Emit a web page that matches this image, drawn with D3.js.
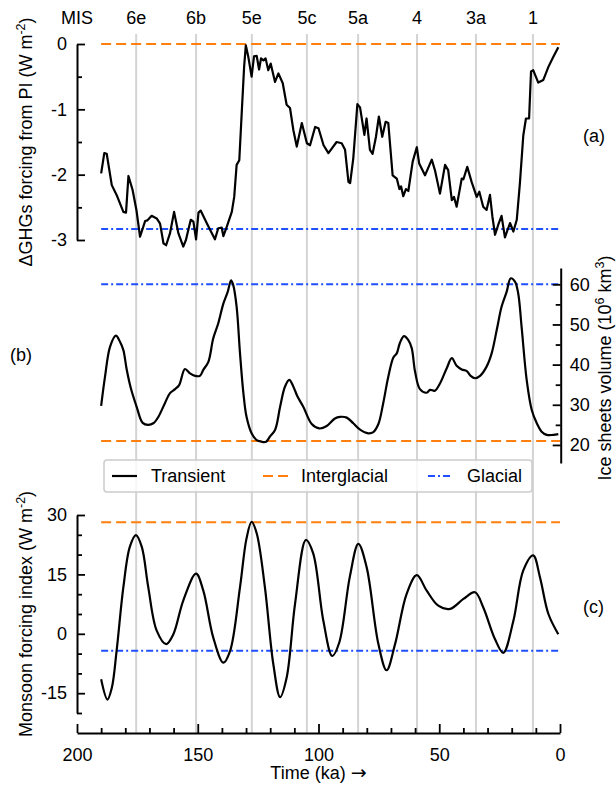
<!DOCTYPE html>
<html>
<head>
<meta charset="utf-8">
<script src="https://cdn.jsdelivr.net/npm/d3@7"></script>
<style>
html,body{margin:0;padding:0;background:#fff;}
svg{display:block;font-family:"Liberation Sans",Arial,Helvetica,sans-serif;}
</style>
</head>
<body>
<svg id="chart" width="616" height="787"></svg>
<script>
// ---------- DATA ----------
const misLabels = ["6e","6b","5e","5c","5a","4","3a","1"];
const misKa = [175.5, 150.7, 127.6, 104.8, 83.6, 59.2, 34.8, 11.2];

const ghgKa = [190,188.7,187.7,185.6,183.6,180.8,179.7,178.7,177,175.4,173.9,171.8,170.9,169.1,167,165.6,164.2,163.1,161.5,159.8,158,156,154.9,152.9,151.8,150.7,149.7,148.8,146.3,142.9,141.5,140.1,139.4,138,135.9,134.9,133.9,132.8,131.8,130.8,130.1,129.1,127.7,126.7,125.6,124.6,123.8,122.8,121.9,120.8,119.8,118,116.6,114.8,113.2,111.8,110.4,109,106.9,104.8,103.5,101.4,100,97.9,95.9,92.5,90.4,89,87.6,86.9,85.6,83.9,82.8,81,80.1,78.7,77.6,76.2,75,73.6,72.2,71.1,69.3,67.6,66.5,65.8,64.9,63.8,62.8,61,59.3,58.3,55.9,53.1,51.8,49.7,47.6,46.3,44.8,43.9,42.8,40.7,40,38.4,36.6,34.5,33.4,31.8,30.4,29,28,26.9,25.6,24.2,22.8,20.7,19.3,17.9,16.6,15.2,14.1,12.8,12,11.1,9,6.9,4.8,2.8,0.7];
const ghgVal = [-1.98,-1.67,-1.68,-2.16,-2.31,-2.57,-2.58,-2.02,-2.23,-2.54,-2.95,-2.71,-2.70,-2.63,-2.67,-2.75,-3.05,-3.08,-2.90,-2.57,-2.90,-3.10,-3.0,-2.69,-2.72,-2.99,-2.58,-2.55,-2.74,-2.99,-2.82,-2.81,-2.94,-2.80,-2.57,-2.34,-1.85,-1.78,-1.06,-0.35,-0.02,-0.19,-0.50,-0.19,-0.18,-0.39,-0.22,-0.25,-0.22,-0.40,-0.30,-0.58,-0.45,-0.60,-0.93,-0.98,-1.32,-1.57,-1.21,-1.52,-1.55,-1.27,-1.29,-1.55,-1.67,-1.50,-1.52,-1.62,-2.11,-2.13,-1.75,-0.92,-0.97,-1.39,-1.14,-1.62,-1.68,-1.42,-1.11,-1.42,-1.19,-1.21,-2.01,-2.06,-2.22,-2.18,-2.33,-2.22,-2.25,-1.80,-1.58,-1.83,-2.01,-1.77,-1.93,-2.29,-1.85,-1.93,-2.39,-2.34,-2.49,-2.06,-2.07,-1.88,-2.11,-2.34,-2.26,-2.49,-2.54,-2.31,-2.64,-2.92,-2.77,-2.63,-2.96,-2.74,-2.87,-2.69,-2.13,-1.40,-1.14,-1.14,-0.42,-0.40,-0.59,-0.55,-0.35,-0.20,-0.05];

const iceKa = [190,188.4,186.3,183.9,182.2,180.8,179.4,177.7,175.3,172.8,170.5,168.4,166.3,163.6,161.5,159.4,157.7,155.3,153.2,151.1,149.1,147.7,145.6,143.6,141.5,139.4,137.6,136.2,135.3,133.9,132.5,131.1,129.8,127.7,125.6,123.6,121.7,120.1,118,115.9,113.9,112.1,110.4,108.8,106.3,102.8,99.7,96.6,93.2,91.1,88.3,85.6,82.8,79.4,77.3,75.2,73.2,71.1,69,67.6,66.3,64.6,62.8,61.4,60,58,55.2,53.8,51.8,49.7,46.9,44.8,42.8,40.7,38.6,37,35.2,33.1,30.4,28.3,26.2,24.2,22.1,20.4,18.6,17.3,15.9,13.8,11.7,9.6,7.6,5.5,2.8,0.7];
const iceVal = [29.7,37.0,44.5,47.2,45.7,43.6,38.7,34.1,29.5,25.5,25.0,25.4,27.0,30.4,32.9,33.9,34.9,38.9,37.8,37.2,37.2,38.7,40.7,46.5,50.3,55.2,58.1,61.0,59.8,54.4,42.8,32.9,27.0,22.9,21.2,20.8,20.8,22.1,23.7,29.5,34.5,36.2,34.5,32.2,29.5,25.2,24.1,24.7,26.6,27.0,26.8,25.4,23.8,22.9,23.2,25.2,30.4,37.0,41.8,42.8,45.4,47.1,46.1,44.1,38.2,33.9,33.0,33.7,33.5,35.3,39.1,41.6,39.7,38.8,38.4,37.2,36.6,37.2,39.5,42.8,48.6,54.4,58.1,61.5,60.6,57.7,49.4,36.2,28.7,25.4,23.3,22.5,22.5,22.7];

const monKa = [190,187.4,185.6,183.6,180.8,178.1,175.6,173.2,170.5,167,163.1,160.1,156,150.7,147.7,143.6,139.4,136.6,132.5,129.8,127.7,125.6,122.2,118.7,115.9,113.2,109.7,105.2,102.2,98,94.3,91.4,87,83.5,80.1,75.2,71.8,68.3,63.5,59.3,55.2,50.4,45.5,40,35.2,31.8,26.9,23.5,19.3,15.2,11.1,8.3,4.8,0.7];
const monVal = [-11.5,-16.6,-13.7,-4.3,11.8,22.0,24.9,22.0,11.8,0.8,-2.6,-0.1,8.4,15.2,10.9,-0.9,-7.3,-4.3,11.8,24.1,28.3,25.4,11.8,-7.7,-16.0,-11.1,7.6,23.7,20.3,3.3,-5.6,-2.2,14.5,22.7,16.9,-2.6,-9.2,-2.6,10.1,14.8,10.9,7.1,6.3,8.8,10.5,6.7,-1.4,-4.8,3.3,16.0,19.8,14.3,5.0,-0.1];

const refSeries = ["Transient","Interglacial","Glacial"];
const ghgRef = {Interglacial: 0, Glacial: -2.83};
const iceRef = {Interglacial: 21.0, Glacial: 60.0};
const monRef = {Interglacial: 28.2, Glacial: -4.3};

const xTicks = [200,150,100,50,0];
const aTicks = [0,-1,-2,-3];
const bTicks = [20,30,40,50,60];
const cTicks = [30,15,0,-15];

// ---------- DRAW ----------
const svg = d3.select("#chart");
const FS = 18;
const colInter = "#ff7f0e", colGlac = "#1f4fff";
const dashInter = "10,5", dashGlac = "7,3,2,3";

const x = d3.scaleLinear().domain([200,0]).range([77,560]);
const ya = d3.scaleLinear().domain([-3,0]).range([240,44]);
const yb = d3.scaleLinear().domain([15.5,64.06]).range([463,268]);
const yc = d3.scaleLinear().domain([-20,30]).range([713,515]);
const xAxisY = 733;

// MIS grid lines
svg.append("g").selectAll("line").data(misKa).join("line")
  .attr("x1", d=>x(d)).attr("x2", d=>x(d)).attr("y1", 34).attr("y2", xAxisY)
  .attr("stroke", "#d4d4d4").attr("stroke-width", 2);

// MIS labels
svg.append("text").attr("x", x(200)).attr("y", 24).attr("text-anchor","middle")
  .attr("font-size", FS).text("MIS");
svg.append("g").selectAll("text").data(misLabels).join("text")
  .attr("x", (d,i)=>x(misKa[i])).attr("y", 24).attr("text-anchor","middle")
  .attr("font-size", FS).text(d=>d);

function refLines(scale, ref) {
  svg.append("line").attr("x1", x(190)).attr("x2", x(0))
    .attr("y1", scale(ref.Interglacial)).attr("y2", scale(ref.Interglacial))
    .attr("stroke", colInter).attr("stroke-width", 2).attr("stroke-dasharray", dashInter);
  svg.append("line").attr("x1", x(190)).attr("x2", x(0))
    .attr("y1", scale(ref.Glacial)).attr("y2", scale(ref.Glacial))
    .attr("stroke", colGlac).attr("stroke-width", 2).attr("stroke-dasharray", dashGlac);
}
refLines(ya, ghgRef);
refLines(yb, iceRef);
refLines(yc, monRef);

function curve(ka, val, scale, cv) {
  const pts = ka.map((k,i)=>[k, val[i]]);
  const gen = d3.line().x(d=>x(d[0])).y(d=>scale(d[1])).curve(cv);
  svg.append("path").datum(pts).attr("d", gen).attr("fill","none")
    .attr("stroke","#000").attr("stroke-width", 2.2).attr("stroke-linejoin","round");
}
curve(ghgKa, ghgVal, ya, d3.curveLinear);
curve(iceKa, iceVal, yb, d3.curveCatmullRom.alpha(0.5));
curve(monKa, monVal, yc, d3.curveCatmullRom.alpha(0.5));

function styleAxis(g) {
  g.selectAll("path.domain").attr("stroke","#000").attr("stroke-width",2);
  g.selectAll(".tick line").attr("stroke","#000").attr("stroke-width",1.8);
  g.selectAll(".tick text").attr("font-size", FS).attr("fill","#000")
    .attr("font-family","Liberation Sans, Arial, sans-serif");
}
const fmt = d => d < 0 ? "-" + Math.abs(d) : String(d);

// Panel a axis
let g = svg.append("g").attr("transform", `translate(${x(200)},0)`)
  .call(d3.axisLeft(ya).tickValues(aTicks).tickSize(-8).tickSizeOuter(0).tickPadding(10).tickFormat(fmt));
styleAxis(g);
g = svg.append("g").attr("transform", `translate(${x(200)},0)`)
  .call(d3.axisLeft(ya).tickValues([-0.5,-1.5,-2.5]).tickSize(-5).tickFormat(""));
g.select(".domain").remove(); styleAxis(g);

// Panel b axis (right)
g = svg.append("g").attr("transform", `translate(${x(0)+0.7},0)`)
  .call(d3.axisRight(yb).tickValues(bTicks).tickSize(-8).tickSizeOuter(0).tickPadding(9));
styleAxis(g);
g = svg.append("g").attr("transform", `translate(${x(0)+0.7},0)`)
  .call(d3.axisRight(yb).tickValues([25,35,45,55]).tickSize(-5).tickFormat(""));
g.select(".domain").remove(); styleAxis(g);

// Panel c axis
g = svg.append("g").attr("transform", `translate(${x(200)},0)`)
  .call(d3.axisLeft(yc).tickValues(cTicks).tickSize(-8).tickSizeOuter(0).tickPadding(10).tickFormat(fmt));
styleAxis(g);
g = svg.append("g").attr("transform", `translate(${x(200)},0)`)
  .call(d3.axisLeft(yc).tickValues([25,20,10,5,-5,-10,-20]).tickSize(-5).tickFormat(""));
g.select(".domain").remove(); styleAxis(g);

// X axis
g = svg.append("g").attr("transform", `translate(0,${xAxisY})`)
  .call(d3.axisBottom(x).tickValues(xTicks).tickSize(-9).tickSizeOuter(0).tickPadding(15));
styleAxis(g);
g = svg.append("g").attr("transform", `translate(0,${xAxisY})`)
  .call(d3.axisBottom(x).tickValues(d3.range(10,200,10).filter(v=>v%50!==0)).tickSize(-5).tickFormat(""));
g.select(".domain").remove(); styleAxis(g);

// Axis titles
const xt = svg.append("text").attr("x", (x(200)+x(0))/2).attr("y", 779).attr("text-anchor","middle")
  .attr("font-size", FS);
xt.append("tspan").text("Time (ka) ");
xt.append("tspan").attr("font-family","DejaVu Sans").attr("font-size", 19).text("\u2192");

function rotTitle(cx, cy, rot, main, sup1, mid, sup2, tail) {
  const t = svg.append("text").attr("transform", `translate(${cx},${cy}) rotate(${rot})`)
    .attr("text-anchor","middle").attr("font-size", FS);
  t.append("tspan").text(main);
  t.append("tspan").attr("font-size", 12.5).attr("dy", -7).text(sup1);
  if (mid !== undefined) {
    t.append("tspan").attr("dy", 7).text(mid);
    t.append("tspan").attr("font-size", 12.5).attr("dy", -7).text(sup2);
    t.append("tspan").attr("dy", 7).text(tail);
  } else {
    t.append("tspan").attr("dy", 7).text(")");
  }
}
rotTitle(32, 142, -90, "\u0394GHGs forcing from PI (W m", "-2");
rotTitle(32, 614, -90, "Monsoon forcing index (W m", "-2");
rotTitle(611, 368, -90, "Ice sheets volume (10", "6", " km", "3", ")");

// Panel labels
svg.append("text").attr("x", 583).attr("y", 142).attr("font-size", FS).text("(a)");
svg.append("text").attr("x", 10).attr("y", 361).attr("font-size", FS).text("(b)");
svg.append("text").attr("x", 583).attr("y", 613).attr("font-size", FS).text("(c)");

// Legend
const lg = svg.append("g");
lg.append("rect").attr("x", 104).attr("y", 460).attr("width", 428).attr("height", 32)
  .attr("rx", 3).attr("fill", "#fff").attr("fill-opacity", 0.8)
  .attr("stroke", "#cccccc").attr("stroke-width", 1.5);
const legItems = [
  {name: refSeries[0], x0: 112, tx: 151, color: "#000", dash: null},
  {name: refSeries[1], x0: 263, tx: 301, color: colInter, dash: dashInter},
  {name: refSeries[2], x0: 428, tx: 467, color: colGlac, dash: dashGlac}
];
legItems.forEach(it => {
  const l = lg.append("line").attr("x1", it.x0).attr("x2", it.x0+25).attr("y1", 476).attr("y2", 476)
    .attr("stroke", it.color).attr("stroke-width", 2.2);
  if (it.dash) l.attr("stroke-dasharray", it.dash);
  lg.append("text").attr("x", it.tx).attr("y", 482).attr("font-size", FS).text(it.name);
});
</script>
</body>
</html>
